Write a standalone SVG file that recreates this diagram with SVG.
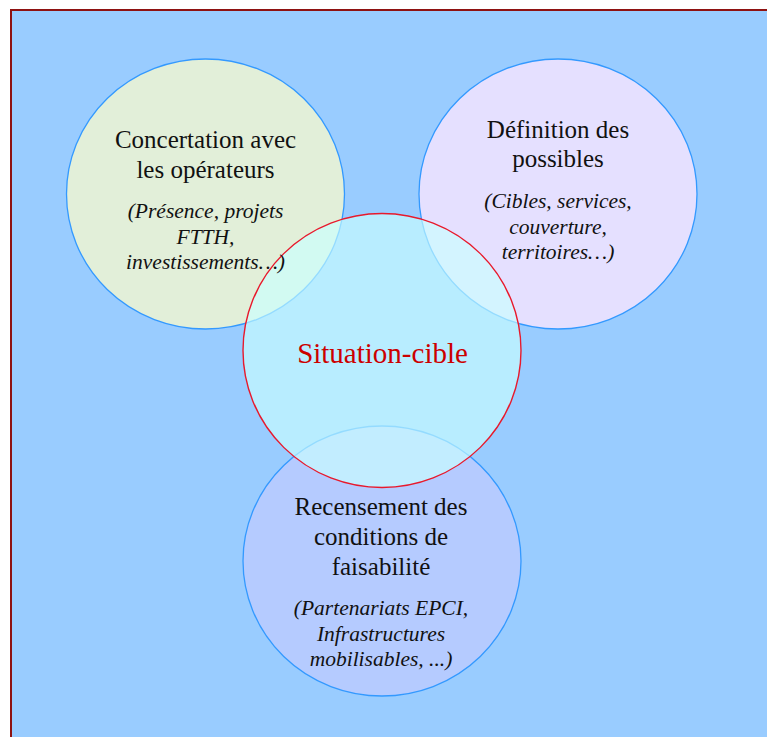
<svg xmlns="http://www.w3.org/2000/svg" width="767" height="737" viewBox="0 0 767 737">
<style>
.ring{stroke:#3399FF;stroke-width:1.3}
.t{font-family:"Liberation Serif","Times New Roman",serif;font-size:25px;fill:#111;text-anchor:middle}
.i{font-family:"Liberation Serif","Times New Roman",serif;font-size:21.5px;font-style:italic;fill:#111;text-anchor:middle}
.c{font-family:"Liberation Serif","Times New Roman",serif;font-size:29px;fill:#CC0000;text-anchor:middle}
</style>
<rect x="11" y="10" width="770" height="740" fill="#99CCFF" stroke="#8E1212" stroke-width="2"/>
<g id="node-concertation">
<ellipse class="ring" cx="205.5" cy="194" rx="139" ry="135" fill="#E2EFD9"/>
</g>
<g id="node-definition">
<ellipse class="ring" cx="558" cy="194" rx="139" ry="135" fill="#E5E0FF"/>
</g>
<g id="node-recensement">
<ellipse class="ring" cx="382" cy="561" rx="139" ry="135" fill="#B5CBFF"/>
</g>
<g id="node-situation">
<ellipse cx="382" cy="350.5" rx="139" ry="137" fill="#CAFFFF" fill-opacity="0.65" stroke="#E8192C" stroke-width="1.4"/>
<text class="c" x="382.5" y="363">Situation-cible</text>
</g>
<g id="labels-concertation">
<text class="t" x="205.5" y="148">Concertation avec</text>
<text class="t" x="205.5" y="178">les opérateurs</text>
<text class="i" x="205.5" y="218">(Présence, projets</text>
<text class="i" x="205.5" y="244">FTTH,</text>
<text class="i" x="205.5" y="269">investissements…)</text>
</g>
<g id="labels-definition">
<text class="t" x="558" y="138">Définition des</text>
<text class="t" x="558" y="167">possibles</text>
<text class="i" x="558" y="208">(Cibles, services,</text>
<text class="i" x="558" y="234">couverture,</text>
<text class="i" x="558" y="259">territoires…)</text>
</g>
<g id="labels-recensement">
<text class="t" x="381" y="515">Recensement des</text>
<text class="t" x="381" y="545">conditions de</text>
<text class="t" x="381" y="575">faisabilité</text>
<text class="i" x="381" y="615">(Partenariats EPCI,</text>
<text class="i" x="381" y="641">Infrastructures</text>
<text class="i" x="381" y="666">mobilisables, ...)</text>
</g>
<g id="connectors"></g>
</svg>
